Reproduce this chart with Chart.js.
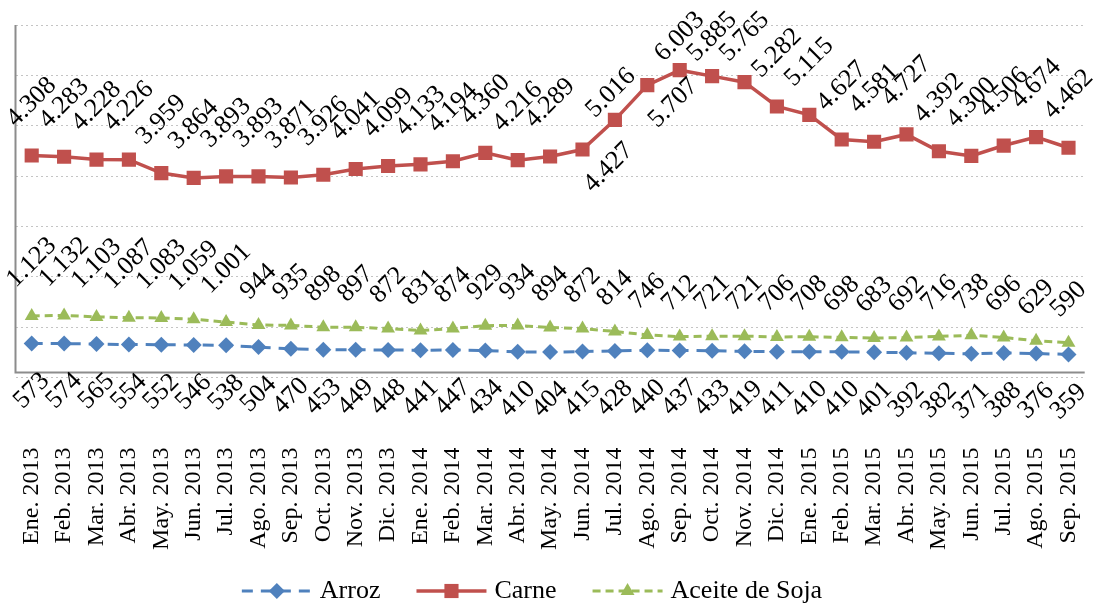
<!DOCTYPE html>
<html>
<head>
<meta charset="utf-8">
<script src="https://cdn.jsdelivr.net/npm/chart.js@4/dist/chart.umd.min.js"></script>
<style>
  html, body { margin: 0; padding: 0; background: #fff; }
  #wrap { width: 1099px; height: 605px; }
</style>
</head>
<body>
<div id="wrap"><canvas id="precios" width="1099" height="605"></canvas></div>
<script>
  const categories = [
    'Ene. 2013', 'Feb. 2013', 'Mar. 2013', 'Abr. 2013', 'May. 2013', 'Jun. 2013',
    'Jul. 2013', 'Ago. 2013', 'Sep. 2013', 'Oct. 2013', 'Nov. 2013', 'Dic. 2013',
    'Ene. 2014', 'Feb. 2014', 'Mar. 2014', 'Abr. 2014', 'May. 2014', 'Jun. 2014',
    'Jul. 2014', 'Ago. 2014', 'Sep. 2014', 'Oct. 2014', 'Nov. 2014', 'Dic. 2014',
    'Ene. 2015', 'Feb. 2015', 'Mar. 2015', 'Abr. 2015', 'May. 2015', 'Jun. 2015',
    'Jul. 2015', 'Ago. 2015', 'Sep. 2015'
  ];
  const arroz = [573, 574, 565, 554, 552, 546, 538, 504, 470, 453, 449, 448,
    441, 447, 434, 410, 404, 415, 428, 440, 437, 433, 419, 411,
    410, 410, 401, 392, 382, 371, 388, 376, 359];
  const carne = [4308, 4283, 4228, 4226, 3959, 3864, 3893, 3893, 3871, 3926, 4041, 4099,
    4133, 4194, 4360, 4216, 4289, 4427, 5016, 5707, 6003, 5885, 5765, 5282,
    5115, 4627, 4581, 4727, 4392, 4300, 4506, 4674, 4462];
  const aceite = [1123, 1132, 1103, 1087, 1083, 1059, 1001, 944, 935, 898, 897, 872,
    831, 874, 929, 934, 894, 872, 814, 746, 712, 721, 721, 706,
    708, 698, 683, 692, 716, 738, 696, 629, 590];
  const yTicks = [-100, 900, 1900, 2900, 3900, 4900, 5900, 6900];

  const FONT = '"Liberation Serif", "Times New Roman", serif';

  // 4308 -> "4.308"
  function fmt(v) {
    return String(v).replace(/\B(?=(\d{3})+(?!\d))/g, '.');
  }

  function drawMarker(ctx, style, x, y, r, color) {
    ctx.beginPath();
    if (style === 'rect') {
      const s = r * Math.SQRT1_2;
      ctx.rect(x - s, y - s, 2 * s, 2 * s);
    } else if (style === 'rectRot') {
      ctx.moveTo(x - r, y);
      ctx.lineTo(x, y - r);
      ctx.lineTo(x + r, y);
      ctx.lineTo(x, y + r);
      ctx.closePath();
    } else {
      ctx.moveTo(x, y - r);
      ctx.lineTo(x + 0.866 * r, y + 0.5 * r);
      ctx.lineTo(x - 0.866 * r, y + 0.5 * r);
      ctx.closePath();
    }
    ctx.fillStyle = color;
    ctx.fill();
  }

  // eje de categorias en el valor 0 y eje vertical a la izquierda
  const axisLines = {
    id: 'axisLines',
    beforeDatasetsDraw(chart) {
      const ctx = chart.ctx;
      const area = chart.chartArea;
      const y0 = chart.scales.y.getPixelForValue(0);
      ctx.save();
      ctx.strokeStyle = '#8c8c8c';
      ctx.lineWidth = 2;
      ctx.beginPath();
      ctx.moveTo(area.left, area.top);
      ctx.lineTo(area.left, y0);
      ctx.lineTo(area.right, y0);
      ctx.stroke();
      ctx.restore();
    }
  };

  // etiquetas de valores giradas 45 grados
  const valueLabels = {
    id: 'valueLabels',
    afterDatasetsDraw(chart) {
      const ctx = chart.ctx;
      const fs = 26;
      ctx.save();
      ctx.font = fs + 'px ' + FONT;
      ctx.fillStyle = '#000';
      ctx.textAlign = 'center';
      ctx.textBaseline = 'middle';
      chart.data.datasets.forEach((ds, di) => {
        const meta = chart.getDatasetMeta(di);
        meta.data.forEach((pt, i) => {
          const txt = fmt(ds.data[i]);
          const w = ctx.measureText(txt).width;
          const half = (w + fs * 0.66) * Math.SQRT1_2 / 2;
          const pos = (ds.labelSpecial && ds.labelSpecial[i]) || ds.labelPos;
          let cx = pt.x, cy;
          if (pos === 'below') {
            cy = pt.y + 27 + 0.52 * w;
          } else if (pos === 'right') {
            cx = pt.x + 26; cy = pt.y + 18;
          } else if (pos === 'near') {
            cx = pt.x - 4; cy = pt.y - 27;
          } else {
            cy = Math.max(pt.y - 23 - 0.52 * w, 10 + half);
          }
          ctx.save();
          ctx.translate(cx, cy);
          ctx.rotate(-Math.PI / 4);
          ctx.fillText(txt, 0, 0);
          ctx.restore();
        });
      });
      ctx.restore();
    }
  };

  // leyenda estilo Excel: linea + marcador
  const lineLegend = {
    id: 'lineLegend',
    afterDraw(chart) {
      const ctx = chart.ctx;
      const sample = 70, gap = 8, spacing = 36;
      const cy = 591;
      ctx.save();
      ctx.font = '26px ' + FONT;
      const items = chart.data.datasets.map(ds => ({ ds: ds, w: ctx.measureText(ds.label).width }));
      let total = 0;
      items.forEach((it, i) => { total += sample + gap + it.w + (i < items.length - 1 ? spacing : 0); });
      let x = 532 - total / 2;
      items.forEach(it => {
        const ds = it.ds;
        ctx.save();
        ctx.strokeStyle = ds.borderColor;
        ctx.lineWidth = ds.borderWidth;
        ctx.setLineDash(ds.borderDash || []);
        ctx.beginPath();
        ctx.moveTo(x, cy);
        ctx.lineTo(x + sample, cy);
        ctx.stroke();
        ctx.restore();
        drawMarker(ctx, ds.pointStyle, x + sample / 2, cy, ds.pointRadius, ds.pointBackgroundColor);
        ctx.fillStyle = '#000';
        ctx.textAlign = 'left';
        ctx.textBaseline = 'middle';
        ctx.fillText(ds.label, x + sample + gap, cy);
        x += sample + gap + it.w + spacing;
      });
      ctx.restore();
    }
  };

  new Chart(document.getElementById('precios').getContext('2d'), {
    type: 'line',
    data: {
      labels: categories,
      datasets: [
        {
          label: 'Arroz',
          data: arroz,
          borderColor: '#4F81BD',
          borderWidth: 3,
          borderDash: [11, 8],
          pointStyle: 'rectRot',
          pointRadius: 8,
          pointBackgroundColor: '#4F81BD',
          pointBorderColor: '#4F81BD',
          pointBorderWidth: 0,
          tension: 0,
          labelPos: 'below'
        },
        {
          label: 'Carne',
          data: carne,
          borderColor: '#C0504D',
          borderWidth: 3.5,
          pointStyle: 'rect',
          pointRadius: 10,
          pointBackgroundColor: '#C0504D',
          pointBorderColor: '#C0504D',
          pointBorderWidth: 0,
          tension: 0,
          labelPos: 'above',
          labelSpecial: { 17: 'right', 18: 'near', 19: 'right' }
        },
        {
          label: 'Aceite de Soja',
          data: aceite,
          borderColor: '#9BBB59',
          borderWidth: 3,
          borderDash: [8, 5],
          pointStyle: 'triangle',
          pointRadius: 8,
          pointBackgroundColor: '#9BBB59',
          pointBorderColor: '#9BBB59',
          pointBorderWidth: 0,
          tension: 0,
          labelPos: 'above'
        }
      ]
    },
    options: {
      responsive: false,
      animation: false,
      devicePixelRatio: 1,
      layout: { padding: { left: 15.5, right: 14.3, top: 25, bottom: 0 } },
      plugins: {
        legend: { display: false },
        tooltip: { enabled: false }
      },
      scales: {
        x: {
          offset: true,
          grid: { display: false, drawTicks: false },
          border: { display: false },
          ticks: {
            autoSkip: false,
            maxRotation: 90,
            minRotation: 90,
            padding: 70,
            color: '#000',
            font: { family: FONT, size: 24 }
          },
          afterFit: scale => {
            scale.height = 227.5;
            scale.paddingLeft = 0;
            scale.paddingRight = 0;
          }
        },
        y: {
          min: -100,
          max: 6900,
          grid: { color: '#c4c4c4', lineWidth: 1, drawTicks: false },
          border: { display: false, dash: [2, 3] },
          ticks: { display: false },
          afterBuildTicks: scale => { scale.ticks = yTicks.map(v => ({ value: v })); },
          afterFit: scale => { scale.width = 0; }
        }
      }
    },
    plugins: [axisLines, valueLabels, lineLegend]
  });
</script>
</body>
</html>
